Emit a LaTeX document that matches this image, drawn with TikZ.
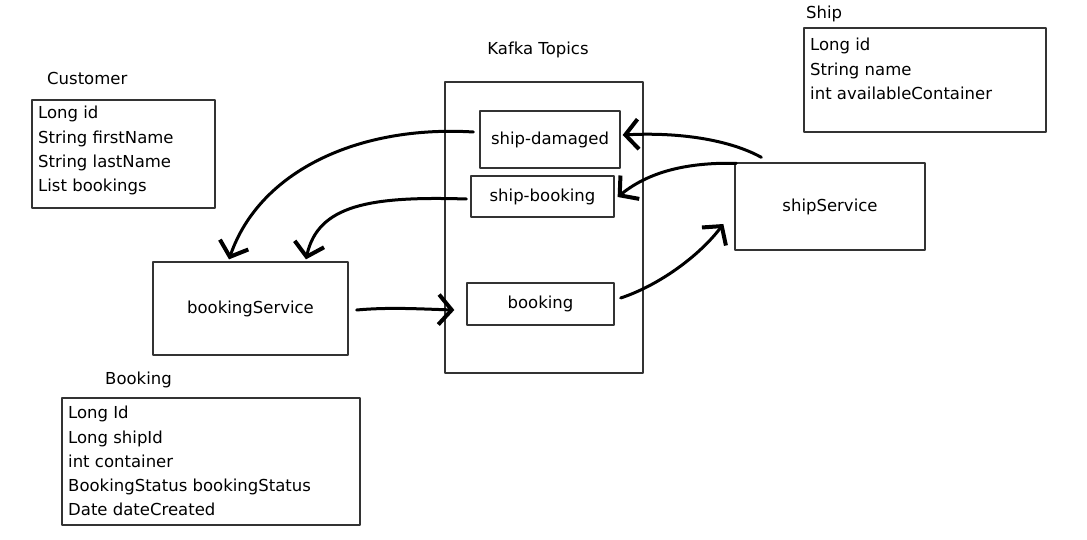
\documentclass[tikz,border=0pt]{standalone}
\usepackage{fontspec}
\setmainfont{DejaVu Sans}
\usetikzlibrary{arrows.meta}
\definecolor{boxline}{HTML}{333333}
\begin{document}
\begin{tikzpicture}[x=1pt, y=-1pt, line cap=round, line join=round,
	every node/.style={font=\fontsize{16.5}{24.3}\selectfont},
	box/.style={draw=boxline, line width=1.3pt, inner sep=0pt},
	fields/.style={anchor=north west, align=left, inner sep=0pt},
	title/.style={anchor=west, inner sep=0pt},
	flow/.style={line width=3pt, -{Straight Barb[length=13pt,width=30pt,line width=4pt]}}]
	% Define window bounds
	\useasboundingbox (0,0) rectangle (1087,540);
	
	% Entity boxes with their fields
	\node[title] (custT) at (47,78) {Customer};
	\node[box, minimum width=183pt, minimum height=108pt] (cust) at (123.5,154) {};
	\node[fields] (custF) at (38,106) {Long id\\String firstName\\String lastName\\List bookings};
	
	\node[title] (shipT) at (806,14) {Ship};
	\node[box, minimum width=242pt, minimum height=104pt] (ship) at (925,80) {};
	\node[fields] (shipF) at (810,38) {Long id\\String name\\int availableContainer};
	
	\node[title] (bkT) at (105,380) {Booking};
	\node[box, minimum width=298pt, minimum height=127pt] (bk) at (211,461.5) {};
	\node[fields] (bkF) at (68,406) {Long Id\\Long shipId\\int container\\BookingStatus bookingStatus\\Date dateCreated};
	
	% Kafka topics
	\node (kafkaT) at (538,50) {Kafka Topics};
	\node[box, minimum width=198pt, minimum height=291pt] (kafka) at (544,227.5) {};
	\node[box, minimum width=140pt, minimum height=57pt] (dmg) at (550,139.5) {ship-damaged};
	\node[box, minimum width=143pt, minimum height=41pt] (sbk) at (542.5,196.5) {ship-booking};
	\node[box, minimum width=147pt, minimum height=42pt] (bkt) at (540.5,304) {booking};
	
	% Services
	\node[box, minimum width=195pt, minimum height=93pt] (bksvc) at (250.5,308.5) {bookingService};
	\node[box, minimum width=190pt, minimum height=87pt] (shipsvc) at (830,206.5) {shipService};
	
	% Message flows
	\draw[flow] ([xshift=-6pt, yshift=7.5pt]dmg.west) .. controls (360,125) and (260,170) .. ([xshift=-21.5pt, yshift=2pt]bksvc.north);
	\draw[flow] ([xshift=-4pt, yshift=-2.5pt]sbk.west) .. controls (370,196) and (318,205) .. ([xshift=55.5pt, yshift=2pt]bksvc.north);
	\draw[flow] ([xshift=8pt, yshift=-1.5pt]bksvc.east) .. controls (390,307) and (420,309) .. ([xshift=-12pt, yshift=-6pt]bkt.west);
	\draw[flow] ([xshift=6pt, yshift=6pt]bkt.east) .. controls (660,285) and (700,255) .. ([xshift=-11pt, yshift=-17.5pt]shipsvc.west);
	\draw[flow] ([xshift=27pt, yshift=5pt]shipsvc.north west) .. controls (730,140) and (680,132) .. ([xshift=2pt, yshift=4.5pt]dmg.east);
	\draw[flow] ([xshift=2pt, yshift=-1pt]shipsvc.north west) .. controls (680,162) and (645,175) .. ([xshift=3pt, yshift=-0.5pt]sbk.east);
\end{tikzpicture}
\end{document}
